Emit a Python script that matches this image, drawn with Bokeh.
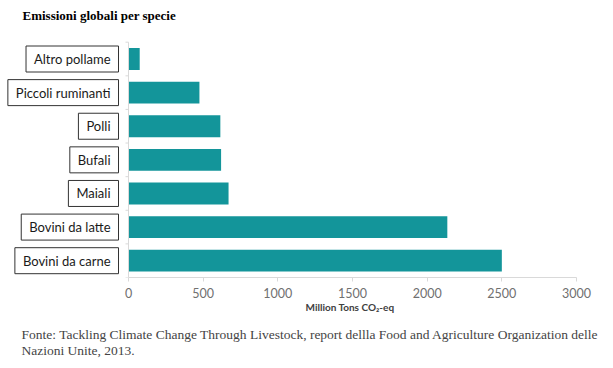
from bokeh.plotting import figure
from bokeh.models import Range1d, FixedTicker, Label, Title, ColumnDataSource
from bokeh.embed import file_html
from bokeh.resources import INLINE

categories = ["Altro pollame", "Piccoli ruminanti", "Polli", "Bufali", "Maiali",
              "Bovini da latte", "Bovini da carne"]
values = [75, 475, 615, 620, 670, 2135, 2500]
x_ticks = [0, 500, 1000, 1500, 2000, 2500, 3000]
title_text = "Emissioni globali per specie"
x_label = "Million Tons CO\u2082-eq"
footer1 = ("Fonte: Tackling Climate Change Through Livestock, report dellla Food and "
           "Agriculture Organization delle")
footer2 = "Nazioni Unite, 2013."

BAR = "#13959a"
GRID = "#d9d9d9"

n = len(categories)
ypos = [n - 1 - i for i in range(n)]          # top category first

W = 600
px_per_unit = 448 / 3000
x0 = -128 / px_per_unit
x1 = x0 + W / px_per_unit
band_px = 237 / n
y_start = -0.5
y_end = n - 0.5 + 42 / band_px

p = figure(width=W, height=368, output_backend="svg", toolbar_location=None,
           x_range=Range1d(x0, x1), y_range=Range1d(y_start, y_end),
           min_border_left=0, min_border_right=0, min_border_top=0,
           min_border_bottom=89)
p.outline_line_color = None
p.grid.visible = False
p.yaxis.visible = False
p.background_fill_color = "white"

src = ColumnDataSource(dict(y=ypos, val=values))
p.hbar(y="y", right="val", left=0, height=0.65, source=src,
       fill_color=BAR, line_color=None)

# vertical axis line with small ticks at category boundaries
p.segment(x0=[0], y0=[-0.5], x1=[0], y1=[n - 0.5], line_color=GRID, line_width=1)
bounds = [k - 0.5 for k in range(n + 1)]
p.segment(x0=[-3 / px_per_unit] * len(bounds), y0=bounds, x1=[0] * len(bounds), y1=bounds,
          line_color=GRID, line_width=1)

xa = p.xaxis[0]
xa.bounds = (x_ticks[0], x_ticks[-1])
xa.ticker = FixedTicker(ticks=x_ticks)
xa.axis_line_color = GRID
xa.major_tick_line_color = GRID
xa.major_tick_in = 0
xa.major_tick_out = 4
xa.minor_tick_line_color = None
xa.major_label_text_font = "Lato"
xa.major_label_text_font_size = "12.5px"
xa.major_label_text_color = "#707070"
xa.major_label_standoff = 6

# axis label, placed under the middle of the tick span
p.add_layout(Title(text=x_label, text_font="Lato", text_font_size="10px",
                   text_font_style="bold", text_color="#404040", align="left",
                   vertical_align="top",
                   offset=128 + (x_ticks[0] + x_ticks[-1]) / 2 * px_per_unit - 47,
                   standoff=0), "below")

for c, yv in zip(categories, ypos):
    p.add_layout(Label(x=0, y=yv, text=c, x_offset=-10, text_align="right",
                       text_baseline="middle",
                       text_font="Lato", text_font_size="13px", text_color="#1a1a1a",
                       border_line_color="#333333", border_line_width=1,
                       background_fill_color="white", padding=(8, 5)))

# chart title inside the top band of the frame
p.add_layout(Label(x=x0 + 22 / px_per_unit, y=y_end - 15 / band_px, text=title_text,
                   text_align="left", text_baseline="middle",
                   text_font="Liberation Serif", text_font_style="bold",
                   text_font_size="13px", text_color="#000000"))

p.add_layout(Title(text=footer1 + "\n" + footer2, text_font="Liberation Serif",
                   text_font_style="normal", text_line_height=1.06,
                   text_font_size="13.5px", offset=21, align="left", standoff=21), "below")

open("out.html", "w").write(file_html(p, INLINE))
